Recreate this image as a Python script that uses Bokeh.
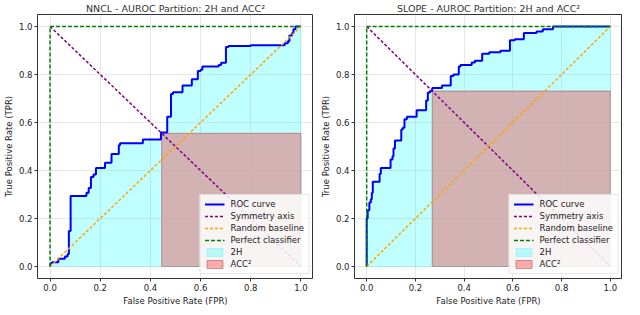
from bokeh.plotting import figure
from bokeh.layouts import row
from bokeh.models import Range1d, FixedTicker, PrintfTickFormatter
from bokeh.embed import file_html
from bokeh.resources import INLINE

# ---------------- data ----------------
titles = ["NNCL - AUROC Partition: 2H and ACC\u00b2",
          "SLOPE - AUROC Partition: 2H and ACC\u00b2"]

nncl_fpr = [0.0, 0.002, 0.009, 0.033, 0.033, 0.059, 0.059, 0.070, 0.070, 0.075, 0.075, 0.082, 0.082,
            0.145, 0.145, 0.154, 0.154, 0.163, 0.163, 0.173, 0.173, 0.183, 0.183, 0.219, 0.219, 0.245,
            0.245, 0.274, 0.274, 0.279, 0.279, 0.370, 0.370, 0.442, 0.442, 0.467, 0.467, 0.482, 0.482,
            0.490, 0.490, 0.528, 0.528, 0.565, 0.565, 0.589, 0.589, 0.600, 0.600, 0.607, 0.607, 0.672,
            0.672, 0.682, 0.682, 0.701, 0.701, 0.711, 0.711, 0.800, 0.800, 0.935, 0.935, 0.948, 0.948,
            0.954, 0.954, 0.965, 0.965, 0.970, 0.970, 0.978, 0.978, 1.0]
nncl_tpr = [0.0, 0.010, 0.018, 0.018, 0.032, 0.032, 0.042, 0.042, 0.052, 0.052, 0.148, 0.148, 0.294,
            0.294, 0.307, 0.307, 0.327, 0.327, 0.373, 0.373, 0.383, 0.383, 0.410, 0.410, 0.432, 0.432,
            0.469, 0.469, 0.505, 0.505, 0.514, 0.514, 0.529, 0.529, 0.558, 0.558, 0.624, 0.624, 0.719,
            0.719, 0.726, 0.726, 0.754, 0.754, 0.780, 0.780, 0.815, 0.815, 0.820, 0.820, 0.833, 0.833,
            0.840, 0.840, 0.849, 0.849, 0.915, 0.915, 0.919, 0.919, 0.922, 0.922, 0.930, 0.930, 0.939,
            0.939, 0.963, 0.963, 0.973, 0.973, 0.989, 0.989, 1.0, 1.0]
nncl_cut = 0.445   # FPR where ROC meets the symmetry axis

slope_fpr = [0.0, 0.0, 0.004, 0.004, 0.011, 0.011, 0.017, 0.017, 0.021, 0.021, 0.025, 0.025, 0.053,
             0.053, 0.058, 0.058, 0.098, 0.098, 0.106, 0.106, 0.110, 0.110, 0.116, 0.116, 0.142, 0.142,
             0.148, 0.148, 0.155, 0.155, 0.165, 0.165, 0.205, 0.205, 0.244, 0.244, 0.251, 0.251, 0.260,
             0.260, 0.269, 0.269, 0.309, 0.309, 0.345, 0.345, 0.356, 0.356, 0.378, 0.378, 0.385, 0.385,
             0.431, 0.431, 0.444, 0.444, 0.474, 0.474, 0.503, 0.503, 0.549, 0.549, 0.588, 0.588, 0.608,
             0.608, 0.645, 0.645, 0.697, 0.697, 0.723, 0.723, 0.765, 0.765, 1.0]
slope_tpr = [0.0, 0.200, 0.200, 0.234, 0.234, 0.267, 0.267, 0.280, 0.280, 0.307, 0.307, 0.353, 0.353,
             0.386, 0.386, 0.410, 0.410, 0.446, 0.446, 0.459, 0.459, 0.492, 0.492, 0.525, 0.525, 0.571,
             0.571, 0.578, 0.578, 0.614, 0.614, 0.624, 0.624, 0.651, 0.651, 0.692, 0.692, 0.725, 0.725,
             0.731, 0.731, 0.744, 0.744, 0.754, 0.754, 0.794, 0.794, 0.800, 0.800, 0.833, 0.833, 0.840,
             0.840, 0.850, 0.850, 0.857, 0.857, 0.886, 0.886, 0.893, 0.893, 0.899, 0.899, 0.943, 0.943,
             0.947, 0.947, 0.973, 0.973, 0.979, 0.979, 0.989, 0.989, 1.0, 1.0]
slope_cut = 0.269

ticks = [0.0, 0.2, 0.4, 0.6, 0.8, 1.0]
FONT = "DejaVu Sans"


def make_panel(title, fpr, tpr, cut, frame_w, border_left, border_right):
    p = figure(frame_width=frame_w, frame_height=264, output_backend="svg", toolbar_location=None,
               x_range=Range1d(-0.05, 1.05), y_range=Range1d(-0.05, 1.05),
               min_border_left=border_left, min_border_right=border_right,
               min_border_top=0, min_border_bottom=0)
    p.title.text = title
    p.title.align = "center"
    p.title.text_font = FONT
    p.title.text_font_size = "9.5px"
    p.title.text_font_style = "normal"
    p.title.text_color = "#333333"
    p.title.standoff = 1
    p.title.offset = 0

    p.outline_line_color = "#333333"
    p.outline_line_width = 1
    p.background_fill_color = "white"
    p.border_fill_color = "white"

    for ax in (p.xaxis[0], p.yaxis[0]):
        ax.ticker = FixedTicker(ticks=ticks)
        ax.formatter = PrintfTickFormatter(format="%.1f")
        ax.major_label_text_font = FONT
        ax.major_label_text_font_size = "8.5px"
        ax.major_label_text_color = "#222222"
        ax.axis_label_text_font = FONT
        ax.axis_label_text_font_size = "8.5px"
        ax.axis_label_text_font_style = "normal"
        ax.axis_label_text_color = "#222222"
        ax.axis_line_color = None
        ax.major_tick_line_color = "#333333"
        ax.major_tick_in = 0
        ax.major_tick_out = 3
        ax.minor_tick_line_color = None
        ax.major_label_standoff = 2
        ax.axis_label_standoff = 2
    p.xaxis.axis_label = "False Positive Rate (FPR)"
    p.yaxis.axis_label = "True Positive Rate (TPR)"

    p.xgrid.ticker = FixedTicker(ticks=ticks)
    p.ygrid.ticker = FixedTicker(ticks=ticks)
    p.grid.grid_line_color = "#b0b0b0"
    p.grid.grid_line_alpha = 0.3
    p.grid.grid_line_width = 1

    # fills (drawn beneath grid)
    area = p.patch(list(fpr) + [1.0, 0.0], list(tpr) + [0.0, 0.0],
                   fill_color="cyan", fill_alpha=0.25, line_color="cyan", line_alpha=0.25,
                   line_width=1, legend_label="2H")
    area.level = "image"
    rect = p.patch([cut, 1.0, 1.0, cut], [0.0, 0.0, 1.0 - cut, 1.0 - cut],
                   fill_color="red", fill_alpha=0.3, line_color="#a04040", line_alpha=0.5,
                   line_width=1, legend_label="ACC\u00b2")
    rect.level = "image"

    p.line(fpr, tpr, line_color="blue", line_width=2, legend_label="ROC curve")
    p.line([0, 1], [1, 0], line_color="purple", line_width=1.5, line_dash="3 2",
           legend_label="Symmetry axis")
    p.line([0, 1], [0, 1], line_color="orange", line_width=1.5, line_dash="3 2",
           legend_label="Random baseline")
    p.line([0, 0, 1], [0, 1, 1], line_color="green", line_width=1.5, line_dash="4 2",
           legend_label="Perfect classifier")

    lg = p.legend[0]
    lg.items = [lg.items[i] for i in (2, 3, 4, 5, 0, 1)]
    lg.location = "bottom_right"
    lg.margin = 4
    lg.padding = 4
    lg.spacing = 2
    lg.label_height = 10
    lg.glyph_height = 10
    lg.glyph_width = 20
    lg.label_standoff = 6
    lg.label_text_font = FONT
    lg.label_text_font_size = "8.5px"
    lg.label_text_color = "#222222"
    lg.border_line_color = "#cccccc"
    lg.border_line_width = 1
    lg.background_fill_alpha = 0.85
    return p


p1 = make_panel(titles[0], nncl_fpr, nncl_tpr, nncl_cut, 276, 0, 0)
p2 = make_panel(titles[1], slope_fpr, slope_tpr, slope_cut, 268, 41, 0)

layout = row(p1, p2)
open("out.html", "w").write(file_html(layout, INLINE))
